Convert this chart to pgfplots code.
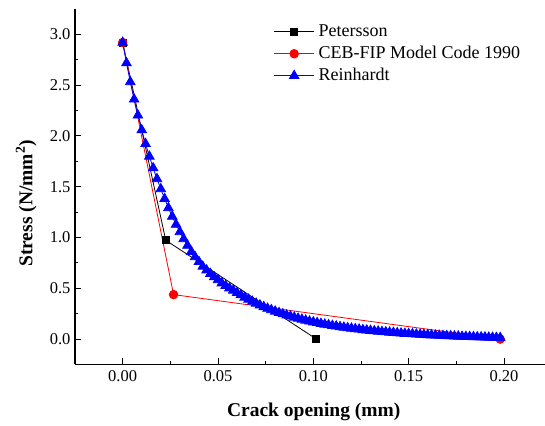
\documentclass[border=0pt]{standalone}
\usepackage{pgfplots}
\pgfplotsset{compat=1.18}
\usepackage{fontspec}
\setmainfont{Liberation Serif}

\pgfplotstableread{
w s
0 2.92
0.002 2.718
0.004 2.532
0.006 2.361
0.008 2.203
0.010 2.058
0.012 1.923
0.014 1.799
0.016 1.684
0.018 1.577
0.020 1.478
0.022 1.381
0.024 1.291
0.026 1.207
0.028 1.128
0.030 1.055
0.032 0.986
0.034 0.921
0.036 0.861
0.038 0.809
0.040 0.761
0.042 0.715
0.044 0.678
0.046 0.643
0.048 0.611
0.050 0.582
0.052 0.551
0.054 0.525
0.056 0.502
0.058 0.479
0.060 0.456
0.062 0.434
0.064 0.411
0.066 0.390
0.068 0.370
0.070 0.351
0.072 0.334
0.074 0.317
0.076 0.301
0.078 0.287
0.080 0.273
0.082 0.259
0.084 0.247
0.086 0.235
0.088 0.224
0.090 0.213
0.092 0.203
0.094 0.193
0.096 0.184
0.098 0.175
0.100 0.167
0.102 0.160
0.104 0.152
0.106 0.145
0.108 0.139
0.110 0.132
0.112 0.126
0.114 0.120
0.116 0.115
0.118 0.110
0.120 0.105
0.122 0.100
0.124 0.096
0.126 0.091
0.128 0.087
0.130 0.083
0.132 0.079
0.134 0.076
0.136 0.072
0.138 0.069
0.140 0.066
0.142 0.063
0.144 0.060
0.146 0.057
0.148 0.054
0.150 0.052
0.152 0.050
0.154 0.047
0.156 0.045
0.158 0.043
0.160 0.041
0.162 0.039
0.164 0.037
0.166 0.035
0.168 0.033
0.170 0.031
0.172 0.030
0.174 0.028
0.176 0.027
0.178 0.025
0.180 0.024
0.182 0.023
0.184 0.021
0.186 0.020
0.188 0.019
0.190 0.018
0.192 0.016
0.194 0.015
0.196 0.014
0.198 0.013
}\reinhardt

\begin{document}
\begin{tikzpicture}
\begin{axis}[
  name=ax,
  scale only axis,
  width=470pt, height=355.5pt,
  xmin=-0.025, xmax=0.2215,
  ymin=-0.25, ymax=3.25,
  axis x line=bottom, axis y line=left,
  axis line style={-, line width=1.2pt},
  tick align=inside,
  major tick length=6.5pt, minor tick length=3.5pt,
  every tick/.style={black, line width=1pt},
  xtick={0,0.05,0.1,0.15,0.2},
  ytick={0,0.5,1,1.5,2,2.5,3},
  minor x tick num=1, minor y tick num=1,
  scaled x ticks=false,
  xticklabel={\rmfamily\pgfmathprintnumber[fixed,fixed zerofill,precision=2,assume math mode=true]{\tick}},
  yticklabel={\rmfamily\pgfmathprintnumber[fixed,fixed zerofill,precision=1,assume math mode=true]{\tick}},
  ticklabel style={font=\rmfamily\fontsize{16.5}{18}\selectfont},
  xticklabel style={yshift=-2.5pt},
  yticklabel style={xshift=-1pt},
  xlabel={\textbf{Crack opening (mm)}},
  ylabel={\textbf{Stress (N/mm\textsuperscript{2})}},
  label style={font=\fontsize{19.5}{22}\selectfont},
  xlabel style={at={(axis description cs:0.508,-0.133)}, anchor=center},
  ylabel style={at={(axis description cs:-0.104,0.453)}, anchor=center},
  legend style={draw=none, fill=none, at={(axis description cs:0.4225,0.966)}, anchor=north west,
    font=\fontsize{18}{20}\selectfont, row sep=1pt, inner sep=0pt,
    nodes={inner sep=2pt, text height=13pt, text depth=4pt},
    /tikz/every odd column/.append style={column sep=2pt}},
  legend cell align=left,
  legend image code/.code={\draw[mark repeat=2, mark phase=2, #1] plot coordinates {(0pt,0pt) (20pt,0pt) (40pt,0pt)};},
]
\addplot[black, line width=0.8pt, mark=square*, mark size=3.5pt, mark options={solid, fill=black}]
  coordinates {(0,2.92) (0.0226,0.973) (0.1016,0)};
\addlegendentry{Petersson}
\addplot[red, line width=0.8pt, mark=*, mark size=4.3pt, mark options={solid, fill=red}]
  coordinates {(0,2.92) (0.0267,0.438) (0.198,0)};
\addlegendentry{CEB-FIP Model Code 1990}
\addplot[blue, line width=0.8pt, mark=triangle*, mark size=5.5pt, mark options={solid, fill=blue}]
  table[x=w, y=s] {\reinhardt};
\addlegendentry{Reinhardt}
\end{axis}
\pgfresetboundingbox
\path[use as bounding box] ([shift={(-75pt,-61.5pt)}]ax.south west) rectangle ([shift={(0pt,9pt)}]ax.north east);
\end{tikzpicture}
\end{document}
